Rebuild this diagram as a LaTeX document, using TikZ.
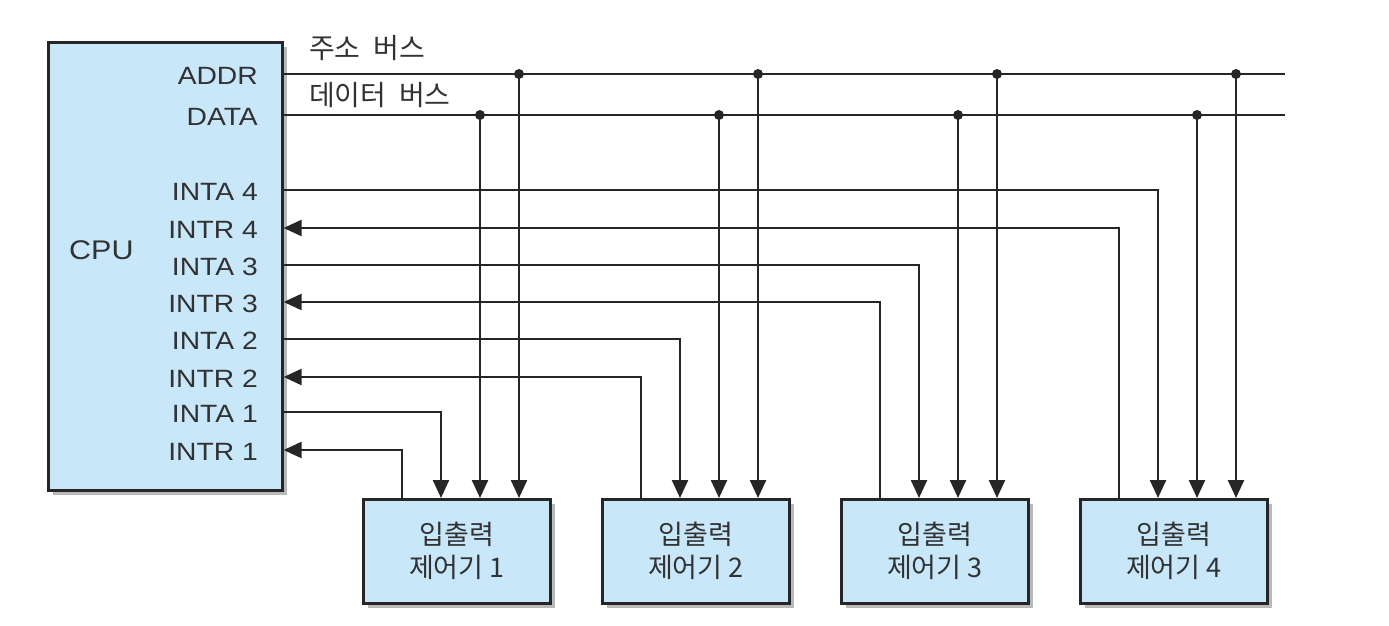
\documentclass[tikz,border=0pt]{standalone}
\usepackage{fontspec}
\setmainfont{Liberation Sans}[FakeStretch=1.13]
\newfontfamily\krfont{Noto Sans CJK KR}
\usetikzlibrary{arrows.meta,shadows,calc}
\definecolor{boxblue}{RGB}{200,232,250}
\definecolor{txtgray}{RGB}{50,50,50}
\begin{document}
\begin{tikzpicture}[x=1pt,y=-1pt,
  blk/.style={draw=black!85, line width=2.6pt, fill=boxblue, inner sep=0pt,
    drop shadow={shadow xshift=5pt,shadow yshift=-5pt,fill=black!50,opacity=.55}},
  wire/.style={line width=2.4pt, draw=black!85},
  arr/.style={wire, -{Triangle[length=18pt,width=16pt]}},
  dot/.style={circle, fill=black!85, inner sep=0pt, minimum size=10pt},
  pin/.style={anchor=east, font=\fontsize{25}{25}\selectfont, text=txtgray, inner sep=0pt},
  buslbl/.style={anchor=west, font=\krfont\fontsize{28}{28}\selectfont, text=txtgray, inner sep=0pt},
  ctl/.style={blk, minimum width=187pt, minimum height=104pt, anchor=north west, align=center,
    text=txtgray, font=\krfont\fontsize{27}{33}\selectfont}
]
\useasboundingbox (0,0) rectangle (1389,625);

% CPU
\node[blk, anchor=north west, minimum width=234pt, minimum height=448pt] (cpu) at (47,41) {};
\node[anchor=west, font=\fontsize{27}{27}\selectfont, text=txtgray, inner sep=0pt] (cpulbl) at (69,250) {CPU};

% bus pins
\node[pin] (paddr) at (258,76) {ADDR};
\node[pin] (pdata) at (258,117) {DATA};
\coordinate (addrend) at (1285,74);
\coordinate (dataend) at (1285,115);
\draw[wire] (cpu.east |- addrend) -- (addrend);
\draw[wire] (cpu.east |- dataend) -- (dataend);
\node[buslbl] (lbladdr) at (309,48) {주소\hspace{0.45em}버스};
\node[buslbl] (lbldata) at (309,95) {데이터\hspace{0.45em}버스};

% controllers and signals
\foreach \i/\x/\ya/\yr in {1/362/412/450, 2/601/339/377, 3/840/265/302, 4/1079/190/228} {
  \node[ctl] (c\i) at (\x,498) {입출력\\제어기 \i};
  \node[pin] (pa\i) at (258,\ya+2) {INTA \i};
  \node[pin] (pr\i) at (258,\yr+2) {INTR \i};
  \coordinate (r\i) at ($(c\i.north west)+(40,0)$);
  \coordinate (a\i) at ($(c\i.north west)+(79,0)$);
  \coordinate (d\i) at ($(c\i.north west)+(118,0)$);
  \coordinate (b\i) at ($(c\i.north west)+(157,0)$);
  \coordinate (ya\i) at (0,\ya);
  \coordinate (yr\i) at (0,\yr);
  \draw[arr] (cpu.east |- ya\i) -| (a\i);
  \draw[arr] (r\i) |- (cpu.east |- yr\i);
  \node[dot] (td\i) at (d\i |- dataend) {};
  \node[dot] (tb\i) at (b\i |- addrend) {};
  \draw[arr] (td\i.center) -- (d\i);
  \draw[arr] (tb\i.center) -- (b\i);
}
\end{tikzpicture}
\end{document}
